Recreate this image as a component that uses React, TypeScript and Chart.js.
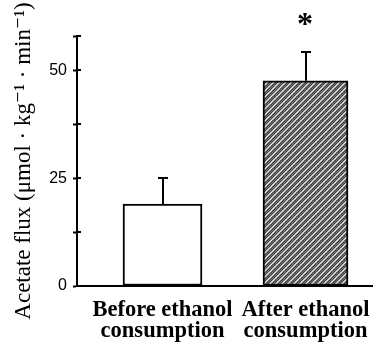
import React, { useEffect, useRef } from "react";
import { Chart, registerables } from "chart.js";

Chart.register(...registerables);

const categories: string[][] = [
  ["Before ethanol", "consumption"],
  ["After ethanol", "consumption"],
];
const positions = [1, 2];
const means = [19, 47.6];
const errors = [6, 6.8];
const markers = ["", "*"];
const yLabelled = [0, 25, 50];
const yTitle = "Acetate flux (\u03bcmol \u00b7 kg\u207b\u00b9 \u00b7 min\u207b\u00b9)";

function makePattern(): CanvasPattern | string {
  const n = 6;
  const c = document.createElement("canvas");
  c.width = n;
  c.height = n;
  const ctx = c.getContext("2d");
  if (!ctx) return "#888";
  for (let x = 0; x < n; x++) {
    for (let y = 0; y < n; y++) {
      const light = (x + y) % n < 2;
      const chk = (x + y) % 2 === 0 ? 0 : 1;
      ctx.fillStyle = light ? (chk ? "#e2e2e2" : "#b8b8b8") : chk ? "#3c3c3c" : "#7a7a7a";
      ctx.fillRect(x, y, 1, 1);
    }
  }
  return ctx.createPattern(c, "repeat") || "#888";
}

const decorPlugin = {
  id: "decor",
  afterDatasetsDraw(chart: any) {
    const ctx = chart.ctx;
    const yScale = chart.scales.y;
    const area = chart.chartArea;
    ctx.save();
    ctx.strokeStyle = "#000";
    ctx.lineWidth = 2;
    yScale.ticks.forEach((t: any) => {
      const py = Math.round(yScale.getPixelForValue(t.value));
      ctx.beginPath();
      ctx.moveTo(area.left, py);
      ctx.lineTo(area.left + 4, py);
      ctx.stroke();
    });
    chart.data.datasets.forEach((ds: any, i: number) => {
      const meta = chart.getDatasetMeta(i);
      const el = meta.data[0];
      if (!el) return;
      const x = Math.round(el.x);
      const yTop = yScale.getPixelForValue(means[i]);
      const yErr = Math.round(yScale.getPixelForValue(means[i] + errors[i]));
      ctx.beginPath();
      ctx.moveTo(x, yTop);
      ctx.lineTo(x, yErr);
      ctx.moveTo(x - 5, yErr);
      ctx.lineTo(x + 5, yErr);
      ctx.stroke();
      if (markers[i]) {
        ctx.fillStyle = "#000";
        ctx.font = "bold 32px 'Liberation Serif', serif";
        ctx.textAlign = "center";
        ctx.textBaseline = "middle";
        ctx.fillText(markers[i], x - 1, yErr - 26);
      }
    });
    ctx.restore();
  },
};

export default function App() {
  const ref = useRef<HTMLCanvasElement | null>(null);
  useEffect(() => {
    if (!ref.current) return;
    const pattern = makePattern();
    const fills = ["#ffffff", pattern];
    const thickness = [79, 85];
    const chart = new Chart(ref.current, {
      type: "bar",
      data: {
        datasets: means.map((m, i) => ({
          data: [{ x: positions[i], y: m }],
          backgroundColor: fills[i],
          borderColor: "#000",
          borderWidth: 2,
          borderSkipped: false,
          barThickness: thickness[i],
          grouped: false,
        })),
      },
      options: {
        animation: false,
        responsive: false,
        devicePixelRatio: 1,
        layout: { padding: { top: 36, right: 6, left: 0, bottom: 0 } },
        plugins: { legend: { display: false }, tooltip: { enabled: false } },
        scales: {
          x: {
            type: "linear",
            offset: false,
            min: 0.402,
            max: 2.465,
            afterBuildTicks: (scale: any) => {
              scale.ticks = positions.map((v) => ({ value: v }));
            },
            afterFit: (scale: any) => {
              scale.height = 62;
              scale.paddingLeft = 0;
              scale.paddingRight = 0;
            },
            grid: { display: true, color: "transparent", drawTicks: false },
            border: { display: true, color: "#000", width: 2 },
            ticks: {
              autoSkip: false,
              maxRotation: 0,
              padding: 14,
              color: "#000",
              font: { family: "'Liberation Serif', serif", size: 22.5, weight: "bold", lineHeight: 0.93 },
              callback: (v: any) => categories[positions.indexOf(v)] ?? "",
            },
          },
          y: {
            min: 0,
            max: 58,
            afterFit: (scale: any) => {
              scale.width = 77;
              scale.paddingTop = 0;
              scale.paddingBottom = 0;
            },
            grid: {
              drawOnChartArea: false,
              drawTicks: true,
              tickLength: 4,
              tickWidth: 2,
              tickColor: "#000",
            },
            border: { display: true, color: "#000", width: 2 },
            ticks: {
              stepSize: 12.5,
              padding: 6,
              color: "#000",
              font: { family: "'Liberation Sans', sans-serif", size: 16 },
              callback: (v: any) => (yLabelled.includes(v) ? String(v) : ""),
            },
            title: {
              display: true,
              text: yTitle,
              color: "#000",
              font: { family: "'Liberation Serif', 'DejaVu Serif', serif", size: 23 },
              padding: { top: 10, bottom: 0 },
            },
          },
        },
      },
      plugins: [decorPlugin],
    } as any);
    return () => chart.destroy();
  }, []);
  return (
    <div style={{ position: "absolute", left: 0, top: 0, width: 378, height: 348, background: "#fff" }}>
      <canvas ref={ref} width={378} height={348} style={{ width: 378, height: 348 }} />
    </div>
  );
}
